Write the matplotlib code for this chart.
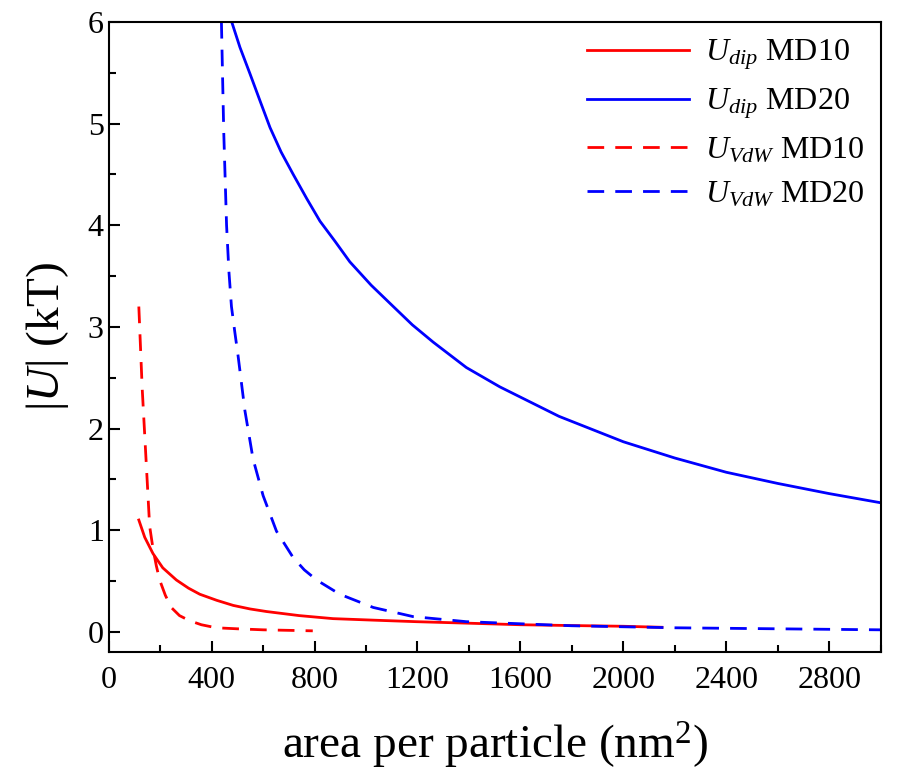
import matplotlib
matplotlib.use("Agg")
import matplotlib.pyplot as plt
from matplotlib.ticker import MultipleLocator

plt.rcParams["font.family"] = "Liberation Serif"
plt.rcParams["mathtext.fontset"] = "custom"
plt.rcParams["mathtext.rm"] = "Liberation Serif"
plt.rcParams["mathtext.it"] = "Liberation Serif:italic"

dip10_x = [117, 140, 172, 210, 263, 310, 354, 420, 484, 550, 613, 740, 872, 1030, 1196,
           1400, 1600, 1800, 2000, 2150]
dip10_y = [1.1, 0.93, 0.77, 0.63, 0.51, 0.43, 0.37, 0.31, 0.26, 0.225, 0.2, 0.16, 0.13,
           0.115, 0.1, 0.085, 0.07, 0.062, 0.055, 0.045]

dip20_x = [478, 510, 549, 590, 627, 670, 717, 770, 821, 880, 937, 1020, 1106, 1180, 1261,
           1390, 1520, 1750, 2000, 2200, 2400, 2600, 2800, 3000]
dip20_y = [6.0, 5.75, 5.49, 5.21, 4.96, 4.72, 4.5, 4.26, 4.04, 3.84, 3.64, 3.41, 3.2, 3.02,
           2.85, 2.6, 2.41, 2.12, 1.87, 1.71, 1.57, 1.46, 1.36, 1.27]

vdw10_x = [117, 130, 146, 159, 172, 185, 198, 220, 243, 275, 314, 360, 418, 500, 600, 793]
vdw10_y = [3.2, 2.4, 1.65, 1.04, 0.82, 0.65, 0.51, 0.36, 0.24, 0.16, 0.11, 0.07, 0.04,
           0.03, 0.02, 0.01]

vdw20_x = [438, 447, 458, 467, 477, 490, 503, 529, 561, 600, 652, 717, 760, 808, 898, 1028,
           1183, 1390, 1800, 2200, 2600, 3000]
vdw20_y = [6.0, 4.92, 4.0, 3.55, 3.2, 2.95, 2.71, 2.18, 1.7, 1.34, 0.99, 0.73, 0.61, 0.51,
           0.37, 0.24, 0.15, 0.1, 0.06, 0.04, 0.03, 0.02]

fig = plt.figure(figsize=(9.06, 7.82), dpi=100)
ax = fig.add_axes((0.120, 0.166, 0.852, 0.806))

lw = 2.0
dash = (0, (6, 4))
ax.plot(dip10_x, dip10_y, color="red", lw=lw, label=r"$U_{dip}$ MD10")
ax.plot(dip20_x, dip20_y, color="blue", lw=lw, label=r"$U_{dip}$ MD20")
ax.plot(vdw10_x, vdw10_y, color="red", lw=lw, ls=dash, label=r"$U_{VdW}$ MD10")
ax.plot(vdw20_x, vdw20_y, color="blue", lw=lw, ls=dash, label=r"$U_{VdW}$ MD20")

ax.set_xlim(0, 3000)
ax.set_ylim(-0.2, 6)
ax.xaxis.set_major_locator(MultipleLocator(400))
ax.xaxis.set_minor_locator(MultipleLocator(200))
ax.yaxis.set_major_locator(MultipleLocator(1))
ax.yaxis.set_minor_locator(MultipleLocator(0.5))
ax.tick_params(which="both", direction="in", labelsize=23, width=1.5)
ax.tick_params(which="major", length=8)
ax.tick_params(which="minor", length=5)
ax.tick_params(axis="x", pad=10)
for s in ax.spines.values():
    s.set_linewidth(1.5)

ax.set_xlabel(r"area per particle (nm$^2$)", fontsize=34, labelpad=18)
ax.set_ylabel(r"$|U|$ (kT)", fontsize=34, labelpad=12)

ax.legend(loc="upper right", frameon=False, fontsize=23, handlelength=3.2,
          borderaxespad=0.1, labelspacing=0.45, handletextpad=0.5)

fig.savefig("out.png", dpi=100)
